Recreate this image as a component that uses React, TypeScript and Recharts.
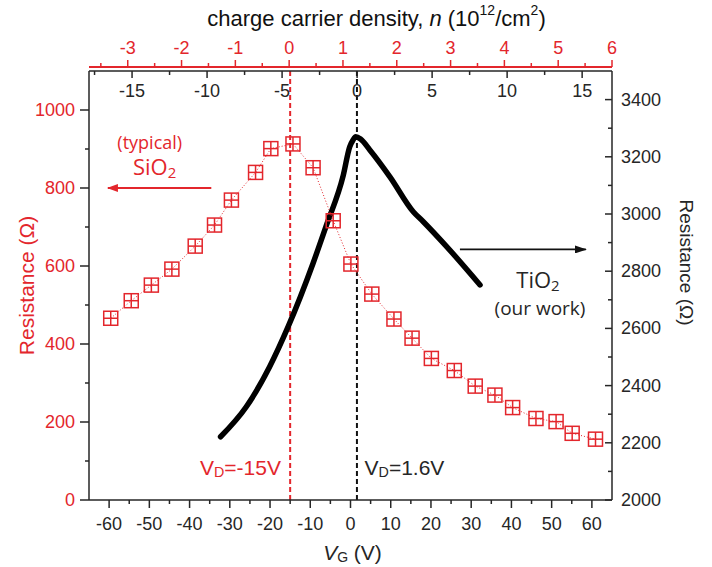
import { ComposedChart, XAxis, YAxis, Scatter, Line, ReferenceLine, ReferenceDot } from 'recharts';

const RED = '#e3262c';
const INK = '#262626';
const SANS = '"Liberation Sans", Arial, sans-serif';
const SOFT = '"Open Sans", "Noto Sans", sans-serif';

// typical SiO2 device, left axis (Ω)
const sio2Vg = [-59.6, -54.5, -49.5, -44.4, -38.6, -33.8, -29.6, -23.6, -19.8, -14.3, -9.3, -4.3, 0.1, 5.3, 10.8, 15.3, 20.1, 25.8, 31.0, 35.9, 40.3, 46.1, 51.1, 55.1, 60.9];
const sio2R = [466, 511, 551, 592, 651, 705, 769, 840, 901, 913, 852, 716, 605, 528, 464, 415, 363, 332, 292, 269, 237, 209, 201, 171, 156];

// TiO2 device (our work), right axis (Ω)
const tio2Vg = [-32.3, -25.9, -20.1, -15.5, -9.3, -6.0, -1.8, -0.2, 0.6, 1.3, 2.5, 4.8, 9.8, 15.6, 18.1, 23.9, 32.2];
const tio2R = [2221, 2326, 2466, 2606, 2828, 2960, 3135, 3235, 3258, 3270, 3262, 3224, 3130, 3008, 2973, 2886, 2752];

// ticks
const vgTicks = [-60, -55, -50, -45, -40, -35, -30, -25, -20, -15, -10, -5, 0, 5, 10, 15, 20, 25, 30, 35, 40, 45, 50, 55, 60];
const leftTicks = [0, 100, 200, 300, 400, 500, 600, 700, 800, 900, 1000];
const rightTicks = [2000, 2100, 2200, 2300, 2400, 2500, 2600, 2700, 2800, 2900, 3000, 3100, 3200, 3300, 3400];
const nSiTicks = [-3.5, -3, -2.5, -2, -1.5, -1, -0.5, 0, 0.5, 1, 1.5, 2, 2.5, 3, 3.5, 4, 4.5, 5, 5.5, 6];
const nTiTicks = [-17.5, -15, -12.5, -10, -7.5, -5, -2.5, 0, 2.5, 5, 7.5, 10, 12.5, 15];

// Dirac points
const diracSi = -15;
const diracTi = 1.6;

const sio2 = sio2Vg.map((vg, i) => ({ vg, r: sio2R[i] }));
const tio2 = tio2Vg.map((vg, i) => ({ vg, r: tio2R[i] }));
// invisible rows so the two density axes get a domain
const nSiRows = nSiTicks.map((n) => ({ n, r: 0 }));
const nTiRows = nTiTicks.map((n) => ({ n, r: 0 }));

type TickProps = { x?: number; y?: number; payload?: { value: number } };

function BottomTick({ x = 0, y = 0, payload }: TickProps) {
  const v = payload?.value ?? 0;
  const major = v % 10 === 0;
  return (
    <g>
      <line x1={x} y1={y} x2={x} y2={y + (major ? 8 : 4)} stroke={INK} strokeWidth={1.5} />
      {major && (
        <text x={x} y={y + 24} textAnchor="middle" dominantBaseline="central" fill={INK} fontSize={18} fontFamily={SANS}>
          {v}
        </text>
      )}
    </g>
  );
}

function LeftTick({ x = 0, y = 0, payload }: TickProps) {
  const v = payload?.value ?? 0;
  const major = v % 200 === 0;
  return (
    <g>
      <line x1={x} y1={y} x2={x - (major ? 9 : 4)} y2={y} stroke={INK} strokeWidth={1.5} />
      {major && (
        <text x={x - 14} y={y} textAnchor="end" dominantBaseline="central" fill={RED} fontSize={18} fontFamily={SANS}>
          {v}
        </text>
      )}
    </g>
  );
}

function RightTick({ x = 0, y = 0, payload }: TickProps) {
  const v = payload?.value ?? 0;
  const major = v % 200 === 0;
  return (
    <g>
      <line x1={x} y1={y} x2={x - (major ? 7 : 4)} y2={y} stroke={INK} strokeWidth={1.5} />
      {major && (
        <text x={x + 9} y={y} textAnchor="start" dominantBaseline="central" fill={INK} fontSize={18} fontFamily={SANS}>
          {v}
        </text>
      )}
    </g>
  );
}

// red density axis sits 4px above the black frame
const RED_SHIFT = 4;

function TopRedTick({ x = 0, y = 0, payload }: TickProps) {
  const v = payload?.value ?? 0;
  const major = Number.isInteger(v);
  const y0 = y - RED_SHIFT;
  return (
    <g>
      <line x1={x} y1={y0} x2={x} y2={y0 - (major ? 7 : 4)} stroke={RED} strokeWidth={1.5} />
      {major && (
        <text x={x} y={y0 - 19} textAnchor="middle" dominantBaseline="central" fill={RED} fontSize={18} fontFamily={SANS}>
          {v}
        </text>
      )}
    </g>
  );
}

function TopInnerTick({ x = 0, y = 0, payload }: TickProps) {
  const v = payload?.value ?? 0;
  const major = v % 5 === 0;
  return (
    <g>
      <line x1={x} y1={y} x2={x} y2={y + (major ? 7 : 4)} stroke={INK} strokeWidth={1.5} />
      {major && (
        <text x={x} y={y + 20} textAnchor="middle" dominantBaseline="central" fill={INK} fontSize={18} fontFamily={SANS}>
          {v}
        </text>
      )}
    </g>
  );
}

type VB = { viewBox?: { x: number; y: number; width: number; height: number } };

function TopTitle({ viewBox }: VB) {
  if (!viewBox) return null;
  const cx = viewBox.x + viewBox.width / 2 + 26;
  return (
    <text x={cx} y={18} textAnchor="middle" dominantBaseline="central" fill="#111" fontSize={22} fontFamily={SANS}>
      charge carrier density, <tspan fontStyle="italic">n</tspan> (10
      <tspan fontSize={14} dy={-8}>12</tspan>
      <tspan dy={8}>/cm</tspan>
      <tspan fontSize={14} dy={-8}>2</tspan>
      <tspan dy={8}>)</tspan>
    </text>
  );
}

function BottomTitle({ viewBox }: VB) {
  if (!viewBox) return null;
  const cx = viewBox.x + viewBox.width / 2 + 2;
  return (
    <text x={cx} y={viewBox.y + 52} textAnchor="middle" dominantBaseline="central" fill={INK} fontSize={21} fontFamily={SANS}>
      <tspan fontStyle="italic">V</tspan>
      <tspan fontSize={14} dy={5}>G</tspan>
      <tspan dy={-5}> (V)</tspan>
    </text>
  );
}

function LeftTitle({ viewBox }: VB) {
  if (!viewBox) return null;
  const cx = viewBox.x + 16;
  const cy = viewBox.y + viewBox.height / 2;
  return (
    <text x={cx} y={cy} transform={`rotate(-90 ${cx} ${cy})`} textAnchor="middle" dominantBaseline="central" fill={RED} fontSize={21} fontFamily={SANS}>
      Resistance (Ω)
    </text>
  );
}

function RightTitle({ viewBox }: VB) {
  if (!viewBox) return null;
  const cx = viewBox.x + 74;
  const cy = viewBox.y + viewBox.height / 2 - 23;
  return (
    <text x={cx} y={cy} transform={`rotate(90 ${cx} ${cy})`} textAnchor="middle" dominantBaseline="central" fill={INK} fontSize={19} fontFamily={SANS}>
      Resistance (Ω)
    </text>
  );
}

function CrossSquare({ cx = 0, cy = 0 }: { cx?: number; cy?: number }) {
  const s = 7;
  return (
    <g stroke={RED} strokeWidth={1.5} fill="none">
      <rect x={cx - s} y={cy - s} width={2 * s} height={2 * s} />
      <line x1={cx - s} y1={cy} x2={cx + s} y2={cy} />
      <line x1={cx} y1={cy - s} x2={cx} y2={cy + s} />
    </g>
  );
}

type Part = { t: string; sub?: boolean };

function note(parts: Part[], fill: string, size: number, family: string, anchor: 'start' | 'middle' | 'end') {
  const drop = size * 0.25;
  return ({ cx = 0, cy = 0 }: { cx?: number; cy?: number }) => (
    <text x={cx} y={cy} textAnchor={anchor} dominantBaseline="central" fill={fill} fontSize={size} fontFamily={family}>
      {parts.map((p, i) =>
        p.sub ? (
          <tspan key={i} fontSize={size * 0.68} dy={drop}>
            {p.t}
          </tspan>
        ) : (
          <tspan key={i} dy={i > 0 && parts[i - 1].sub ? -drop : 0}>
            {p.t}
          </tspan>
        ),
      )}
    </text>
  );
}

const typicalNote = note([{ t: '(typical)' }], RED, 18, SOFT, 'middle');
const sio2Note = note([{ t: 'SiO' }, { t: '2', sub: true }], RED, 22, SOFT, 'middle');
const tio2Note = note([{ t: 'TiO' }, { t: '2', sub: true }], INK, 22, SOFT, 'middle');
const ourNote = note([{ t: '(our work)' }], INK, 19, SOFT, 'middle');
const vdSiNote = note([{ t: 'V' }, { t: 'D', sub: true }, { t: '=-15V' }], RED, 21, SANS, 'end');
const vdTiNote = note([{ t: 'V' }, { t: 'D', sub: true }, { t: '=1.6V' }], INK, 21, SANS, 'start');

export default function App() {
  return (
    <div style={{ position: 'absolute', left: 0, top: 0, width: 712, height: 567, background: '#fff' }}>
      <ComposedChart width={712} height={567} margin={{ top: 0, right: 10, bottom: 0, left: 10 }}>
        <defs>
          <marker id="arrowRed" markerWidth={11} markerHeight={8} refX={10} refY={4} orient="auto" markerUnits="userSpaceOnUse">
            <path d="M0,0 L11,4 L0,8 z" fill={RED} />
          </marker>
          <marker id="arrowInk" markerWidth={12} markerHeight={8} refX={11} refY={4} orient="auto" markerUnits="userSpaceOnUse">
            <path d="M0,0 L12,4 L0,8 z" fill="#111" />
          </marker>
        </defs>

        <XAxis
          xAxisId="nTi"
          dataKey="n"
          orientation="top"
          mirror
          type="number"
          domain={[-17.87, 16.99]}
          allowDataOverflow
          ticks={nTiTicks}
          interval={0}
          height={1}
          tickSize={0}
          tickMargin={0}
          tick={TopInnerTick}
          tickLine={false}
          axisLine={{ stroke: INK, strokeWidth: 1.5 }}
        />
        <XAxis
          xAxisId="nSi"
          dataKey="n"
          orientation="top"
          type="number"
          domain={[-3.72, 6]}
          allowDataOverflow
          ticks={nSiTicks}
          interval={0}
          height={71}
          tickSize={0}
          tickMargin={0}
          tick={TopRedTick}
          tickLine={false}
          axisLine={{ stroke: RED, strokeWidth: 2, transform: `translate(0,-${RED_SHIFT})` }}
          label={<TopTitle />}
        />
        <XAxis
          xAxisId="vg"
          dataKey="vg"
          type="number"
          domain={[-65, 65]}
          allowDataOverflow
          ticks={vgTicks}
          interval={0}
          height={67}
          tickSize={0}
          tickMargin={0}
          tick={BottomTick}
          tickLine={false}
          axisLine={{ stroke: INK, strokeWidth: 1.5 }}
          label={<BottomTitle />}
        />
        <YAxis
          yAxisId="left"
          dataKey="r"
          type="number"
          domain={[0, 1100]}
          allowDataOverflow
          ticks={leftTicks}
          interval={0}
          width={79}
          tickSize={0}
          tickMargin={0}
          tick={LeftTick}
          tickLine={false}
          axisLine={{ stroke: INK, strokeWidth: 1.5 }}
          label={<LeftTitle />}
        />
        <YAxis
          yAxisId="right"
          orientation="right"
          dataKey="r"
          type="number"
          domain={[2000, 3500]}
          allowDataOverflow
          ticks={rightTicks}
          interval={0}
          width={90}
          tickSize={0}
          tickMargin={0}
          tick={RightTick}
          tickLine={false}
          axisLine={{ stroke: INK, strokeWidth: 1.5 }}
          label={<RightTitle />}
        />

        {/* hidden series, only to feed the density axes */}
        <Line data={nSiRows} dataKey="r" xAxisId="nSi" yAxisId="left" stroke="none" dot={false} activeDot={false} legendType="none" isAnimationActive={false} />
        <Line data={nTiRows} dataKey="r" xAxisId="nTi" yAxisId="left" stroke="none" dot={false} activeDot={false} legendType="none" isAnimationActive={false} />

        <ReferenceLine
          xAxisId="vg"
          yAxisId="left"
          segment={[{ x: diracSi, y: 0 }, { x: diracSi, y: 1110 }]}
          ifOverflow="visible"
          stroke={RED}
          strokeWidth={2}
          strokeDasharray="5 3"
        />
        <ReferenceLine xAxisId="vg" yAxisId="left" x={diracTi} stroke="#111" strokeWidth={2} strokeDasharray="5 3" />

        <Scatter
          name="SiO2"
          data={sio2}
          dataKey="r"
          xAxisId="vg"
          yAxisId="left"
          shape={CrossSquare}
          line={{ stroke: RED, strokeWidth: 1, strokeDasharray: '1 2' }}
          lineType="joint"
          isAnimationActive={false}
        />
        <Line
          name="TiO2"
          data={tio2}
          dataKey="r"
          xAxisId="vg"
          yAxisId="right"
          type="monotone"
          stroke="#000"
          strokeWidth={5.5}
          strokeLinecap="round"
          strokeLinejoin="round"
          dot={false}
          activeDot={false}
          isAnimationActive={false}
        />

        <ReferenceLine
          xAxisId="vg"
          yAxisId="left"
          segment={[{ x: -34.6, y: 800 }, { x: -60.3, y: 800 }]}
          stroke={RED}
          strokeWidth={2}
          markerEnd="url(#arrowRed)"
        />
        <ReferenceLine
          xAxisId="vg"
          yAxisId="right"
          segment={[{ x: 27.2, y: 2876 }, { x: 58.5, y: 2876 }]}
          stroke="#111"
          strokeWidth={1.8}
          markerEnd="url(#arrowInk)"
        />

        <ReferenceDot xAxisId="vg" yAxisId="left" x={-49.9} y={918} r={0} shape={typicalNote} />
        <ReferenceDot xAxisId="vg" yAxisId="left" x={-48.7} y={856} r={0} shape={sio2Note} />
        <ReferenceDot xAxisId="vg" yAxisId="right" x={46.6} y={2772} r={0} shape={tio2Note} />
        <ReferenceDot xAxisId="vg" yAxisId="right" x={47.1} y={2672} r={0} shape={ourNote} />
        <ReferenceDot xAxisId="vg" yAxisId="left" x={-17.3} y={85} r={0} shape={vdSiNote} />
        <ReferenceDot xAxisId="vg" yAxisId="left" x={3.5} y={85} r={0} shape={vdTiNote} />
      </ComposedChart>
    </div>
  );
}
